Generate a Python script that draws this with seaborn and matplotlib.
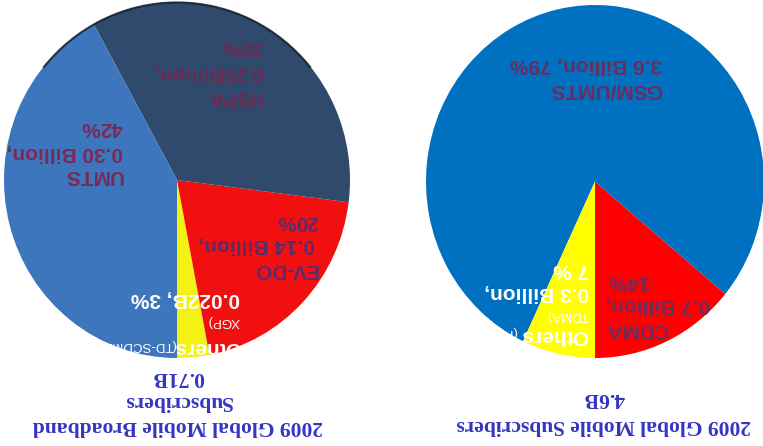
import matplotlib
matplotlib.use("Agg")
import matplotlib.pyplot as plt
import seaborn as sns
from matplotlib.patches import Ellipse, Arc

# ---------------- data ----------------
bb_labels = ["Others", "EV-DO", "HSPA", "UMTS"]
bb_values = [3, 20, 35, 42]
bb_colors = ["#f4f214", "#f20f0f", "#2f4a6c", "#3d76bd"]

mob_labels = ["CDMA", "GSM/UMTS", "Others"]
mob_values = [14, 79, 7]
mob_colors = ["#ff0000", "#0070c0", "#ffff00"]

bb_title = ["2009 Global Mobile Broadband", "Subscribers", "0.71B"]
mob_title = ["2009 Global Mobile Subscribers", "4.6B"]

sns.set_theme(style="white")
plt.rcParams["font.family"] = ["Liberation Sans", "DejaVu Sans"]

W, H = 763, 446
fig = plt.figure(figsize=(W / 100, H / 100), dpi=100)


def Y(py):
    return H - py


# pie boxes in picture pixels (x0, y0, x1, y1); picture is rotated 180 degrees
bb_box = (4, 2, 350, 358)
mob_box = (426, 5, 764, 358)


def pie_axes(box, values, colors):
    x0, y0, x1, y1 = box
    pax = fig.add_axes([x0 / W, (H - y1) / H, (x1 - x0) / W, (y1 - y0) / H])
    pax.pie(values, colors=colors, startangle=-90, counterclock=True,
            radius=1, frame=True, wedgeprops=dict(linewidth=0))
    pax.set_aspect("auto")
    pax.set_xlim(-1, 1)
    pax.set_ylim(-1, 1)
    pax.axis("off")
    return pax


pie_axes(bb_box, bb_values, bb_colors)
pie_axes(mob_box, mob_values, mob_colors)

ax = fig.add_axes([0, 0, 1, 1])
ax.patch.set_alpha(0)
ax.set_xlim(0, W)
ax.set_ylim(0, H)
ax.axis("off")


def ell(box):
    x0, y0, x1, y1 = box
    return ((x0 + x1) / 2, Y((y0 + y1) / 2)), x1 - x0, y1 - y0


c, w, h = ell(bb_box)
clip_bb = Ellipse(c, w, h, transform=ax.transData)
# dark rim on the top of the broadband pie
ax.add_patch(Arc(c, w - 1, h - 1, theta1=40, theta2=140, color="#16202e",
                 linewidth=1.6, alpha=0.8))
c, w, h = ell(mob_box)
clip_mob = Ellipse(c, w, h, transform=ax.transData)


def lab(x, y, s, color, size=15, weight="bold", ha="right", clip=None, **kw):
    t = ax.text(x, Y(y), s, rotation=180, ha=ha, va="center", color=color,
                fontsize=size, fontweight=weight, **kw)
    if clip is not None:
        t.set_clip_path(clip)
    return t


lp = "#7b2a55"   # label purple (broadband)
rp = "#6c2d5e"   # label purple (mobile)
white = "white"

# ---- broadband pie labels ----
lab(263, 97, "HSPA", "#6e2a52", clip=clip_bb)
lab(263, 72, "0.25Billion,", "#6e2a52", clip=clip_bb)
lab(263, 48, "35%", "#6e2a52", clip=clip_bb)

lab(123, 176, "UMTS", lp, clip=clip_bb)
lab(123, 152, "0.30 Billion,", lp, clip=clip_bb)
lab(123, 128, "42%", lp, clip=clip_bb)

lab(318, 270, "EV-DO", "#5c2c6c", clip=clip_bb)
lab(315, 245, "0.14 Billion,", "#5c2c6c", clip=clip_bb)
lab(318, 221, "20%", "#5c2c6c", clip=clip_bb)

lab(241, 347, "Others", white, clip=clip_bb)
lab(176, 345, "(TD-SCDMA,", white, size=9.5, weight="normal", clip=clip_bb)
lab(240, 321, "XGP)", white, size=9.5, weight="normal", clip=clip_bb)
lab(240, 298, "0.022B, 3%", white, clip=clip_bb)

# ---- mobile pie labels ----
lab(662, 90, "GSM/UMTS", rp, clip=clip_mob)
lab(662, 65, "3.6 Billion, 79%", rp, clip=clip_mob)

lab(668, 330, "CDMA", rp, clip=clip_mob)
lab(710, 305, "0.7 Billion,", rp, clip=clip_mob)
lab(648, 281, "14%", rp, clip=clip_mob)

lab(588, 335, "Others", white, clip=clip_mob)
lab(518, 332, "(PDC, iDEN,", white, size=9.5, weight="normal", clip=clip_mob)
lab(589, 315, "TDMA)", white, size=9.5, weight="normal", clip=clip_mob)
lab(589, 293, "0.3 Billion,", white, clip=clip_mob)
lab(589, 270, "7 %", white, clip=clip_mob)

# ---- titles (upside down) ----
tcol = "#3535c2"
for i, s in enumerate(bb_title):
    ax.text(178, Y(426 - 24.5 * i), s, rotation=180, ha="center", va="center",
            color=tcol, fontsize=15.5, fontweight="bold",
            family=["Liberation Serif", "DejaVu Serif"])
for i, s in enumerate(mob_title):
    ax.text(604, Y(425 - 27 * i), s, rotation=180, ha="center", va="center",
            color=tcol, fontsize=15.5, fontweight="bold",
            family=["Liberation Serif", "DejaVu Serif"])

fig.savefig("out.png", dpi=100)
